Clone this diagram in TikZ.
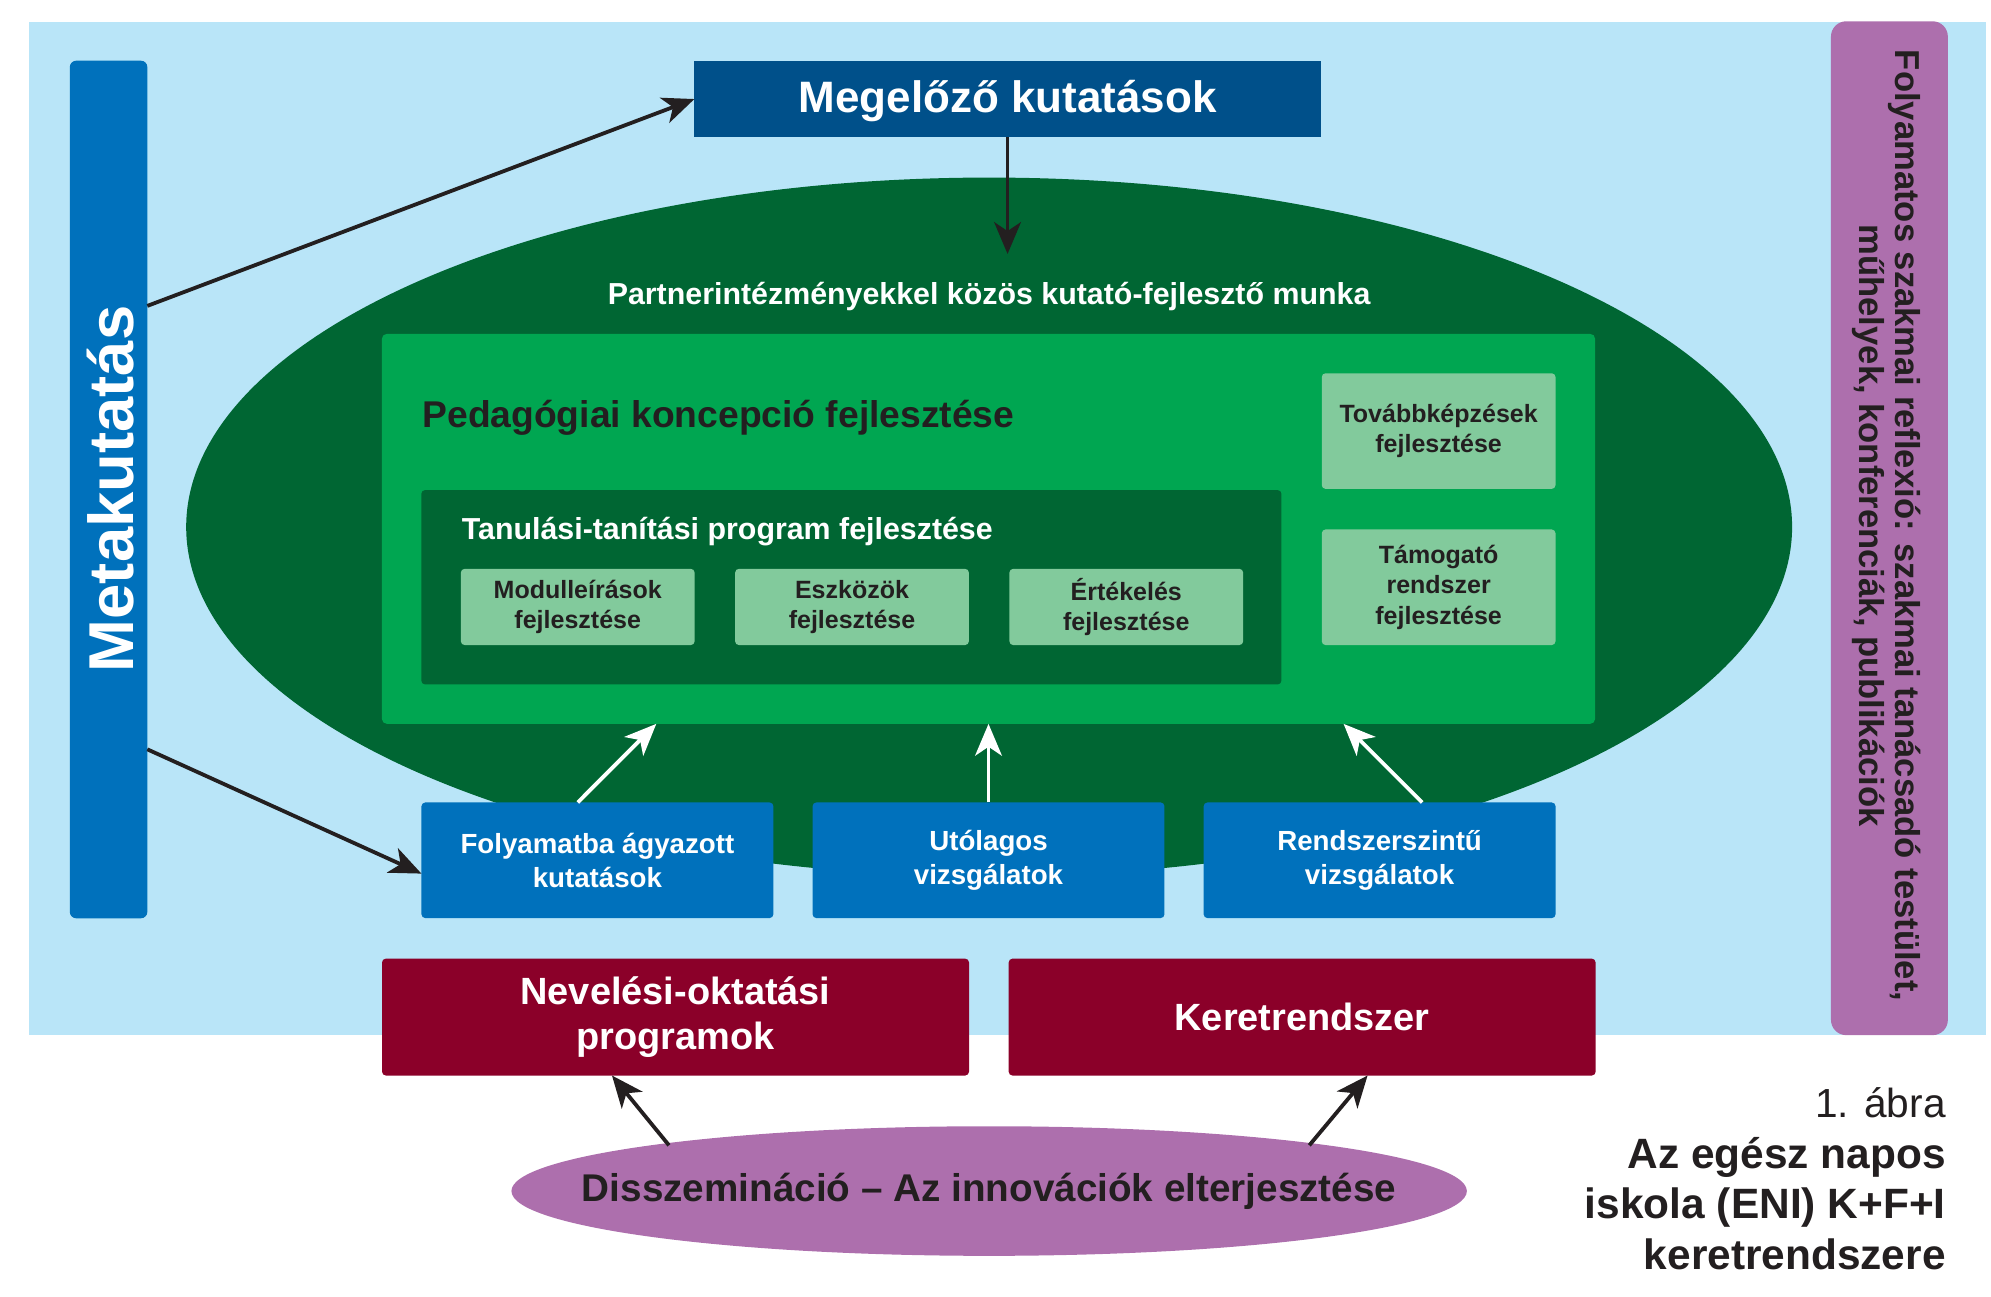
\documentclass[tikz,border=0pt]{standalone}
\usepackage{fontspec}
\setmainfont{Liberation Sans}
\usetikzlibrary{arrows.meta,shapes.geometric}
\definecolor{bgblue}{RGB}{185,229,248}
\definecolor{midblue}{RGB}{0,113,188}
\definecolor{navy}{RGB}{0,80,138}
\definecolor{dkgreen}{RGB}{0,102,51}
\definecolor{brgreen}{RGB}{0,166,81}
\definecolor{ltgreen}{RGB}{130,202,156}
\definecolor{wine}{RGB}{139,0,41}
\definecolor{lilac}{RGB}{173,111,173}
\definecolor{ink}{RGB}{35,31,32}
\newcommand\fs[2]{\fontsize{#1}{#2}\selectfont}
\begin{document}
\begin{tikzpicture}[x=0.01cm,y=-0.01cm,
  tip/.style={-{Stealth[length=0.25cm,width=0.21cm,inset=0.07cm]}},
  blk/.style={tip, draw=ink, line width=0.03cm},
  wht/.style={tip, draw=white, line width=0.03cm},
  box/.style={inner sep=0, outer sep=0, align=center, rounded corners=0.03cm},
  subbox/.style={box, fill=ltgreen, text=ink, minimum width=1.84cm, font=\fs{5.6}{6.8}\bfseries},
  resbox/.style={box, fill=midblue, text=white, minimum width=2.77cm, minimum height=0.91cm, font=\fs{6.2}{7.7}\bfseries},
  progbox/.style={box, fill=wine, text=white, minimum width=4.62cm, minimum height=0.92cm, font=\fs{8.5}{10}\bfseries},
]
\useasboundingbox (0,0) rectangle (1568,1021);
% background
\fill[bgblue] (23,17) rectangle (1564,815);
% Metakutatás bar
\node[box, fill=midblue, rounded corners=0.05cm, minimum width=0.61cm, minimum height=6.75cm] (meta) at (85.5,385.5) {};
\node[rotate=90, text=white, inner sep=0, font=\fs{14.2}{16}\bfseries] (metat) at (87,385) {Metakutatás};
% right purple bar
\node[box, fill=lilac, rounded corners=0.12cm, minimum width=0.92cm, minimum height=7.98cm] (refl) at (1488,416) {};
\node[rotate=-90, text=ink, inner sep=0, align=center, font=\fs{7.75}{8}\bfseries] (reflt) at (1486,414)
  {Folyamatos szakmai reflexió: szakmai tanácsadó testület,\\műhelyek, konferenciák, publikációk};
% Megelőző kutatások
\node[box, rounded corners=0, fill=navy, text=white, minimum width=4.93cm, minimum height=0.6cm, text height=7.5pt, text depth=1.5pt, font=\fs{9.85}{12}\bfseries] (mege) at (793.5,78) {Megelőző kutatások};
% big ellipse
\node[ellipse, fill=dkgreen, inner sep=0, outer sep=0, minimum width=12.64cm, minimum height=5.5cm] (part) at (779,415) {};
\coordinate (partTop) at (793.5,200);
\node[anchor=base, text=white, inner sep=0, font=\fs{6.8}{8}\bfseries] (partt) at (779,240) {Partnerintézményekkel közös kutató-fejlesztő munka};
% pedagógiai koncepció
\node[box, fill=brgreen, rounded corners=0.04cm, minimum width=9.55cm, minimum height=3.07cm] (ped) at (778.5,416.5) {};
\node[anchor=base west, text=ink, inner sep=0, font=\fs{8.34}{10}\bfseries] (pedt) at (332,337) {Pedagógiai koncepció fejlesztése};
\node[subbox, minimum height=0.91cm] (tovabb) at (1133,339.5) {Továbbképzések\\fejlesztése};
\node[subbox, minimum height=0.91cm] (tamog) at (1133,462.5) {Támogató\\rendszer\\fejlesztése};
% tanulási-tanítási program
\node[box, fill=dkgreen, minimum width=6.77cm, minimum height=1.53cm] (tanul) at (670.5,462.5) {};
\node[anchor=base west, text=white, inner sep=0, font=\fs{6.8}{8}\bfseries] (tanult) at (363,425) {Tanulási-tanítási program fejlesztése};
\node[subbox, minimum height=0.6cm] (modul) at (455,478) {Modulleírások\\fejlesztése};
\node[subbox, minimum height=0.6cm] (eszk) at (671,478) {Eszközök\\fejlesztése};
\node[subbox, minimum height=0.6cm] (ertek) at (887,478) {Értékelés\\fejlesztése};
% research boxes
\node[resbox] (folya) at (470.5,677.5) {Folyamatba ágyazott\\kutatások};
\node[resbox] (utol) at (778.5,677.5) {Utólagos\\vizsgálatok};
\node[resbox] (rendsz) at (1086.5,677.5) {Rendszerszintű\\vizsgálatok};
% programme boxes
\node[progbox] (nev) at (532,801) {Nevelési-oktatási\\programok};
\node[progbox] (ker) at (1025.5,801) {Keretrendszer};
% dissemination
\node[ellipse, fill=lilac, inner sep=0, outer sep=0, minimum width=7.52cm, minimum height=1.02cm] (dissem) at (779,938) {};
\node[anchor=base, text=ink, inner sep=0, font=\fs{8.66}{10}\bfseries] (dissemt) at (779,946) {Disszemináció -- Az innovációk elterjesztése};
% caption
\node[anchor=base east, inner sep=0, text=ink, font=\fs{9.1}{11}] (cap1) at (1533,880) {1. ábra};
\node[anchor=base east, inner sep=0, text=ink, font=\fs{9.5}{11}\bfseries] (cap2) at (1533,920) {Az egész napos};
\node[anchor=base east, inner sep=0, text=ink, font=\fs{9.5}{11}\bfseries] (cap3) at (1533,960) {iskola (ENI) K+F+I};
\node[anchor=base east, inner sep=0, text=ink, font=\fs{9.5}{11}\bfseries] (cap4) at (1533,1000) {keretrendszere};
% connectors
\draw[blk] ([yshift=-1.93cm]meta.north east) -- (mege.west);
\draw[blk] ([yshift=-5.42cm]meta.north east) -- ([yshift=-0.105cm]folya.west);
\draw[blk] (mege.south) -- (partTop);
\draw[wht] ([xshift=-0.155cm]folya.north) -- ([xshift=-2.615cm]ped.south);
\draw[wht] (utol.north) -- (ped.south);
\draw[wht] ([xshift=0.335cm]rendsz.north) -- ([xshift=2.795cm]ped.south);
\draw[blk] ([shift={(-2.52cm,0.36cm)}]dissem.center) -- ([xshift=-0.5cm]nev.south);
\draw[blk] ([shift={(2.52cm,0.36cm)}]dissem.center) -- ([xshift=0.515cm]ker.south);
\end{tikzpicture}
\end{document}
